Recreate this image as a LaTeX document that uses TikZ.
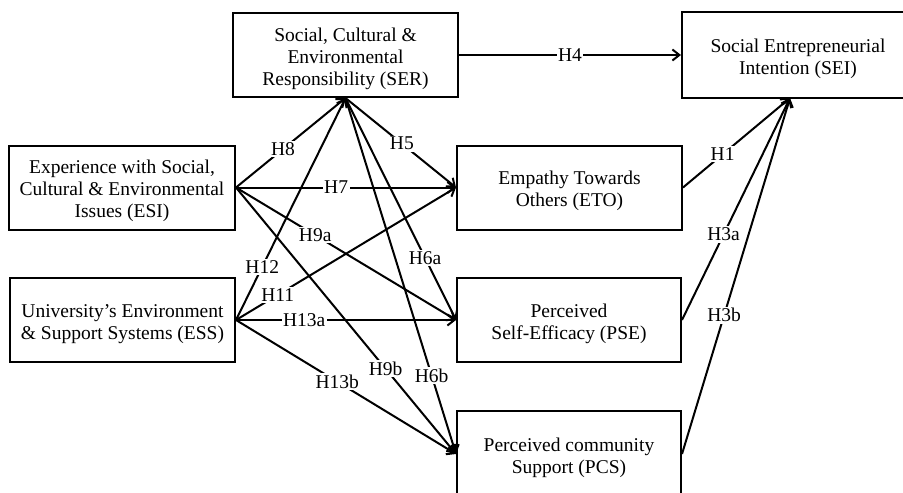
\documentclass[tikz,border=0pt]{standalone}
\usepackage{fontspec}
\setmainfont{Liberation Serif}
\usetikzlibrary{arrows.meta}
\newcommand\tup{\rule{0pt}{21pt}}
\begin{document}
\begin{tikzpicture}[x=1pt,y=-1pt,
  box/.style={draw, line width=2pt, align=center, inner sep=0pt,
    font=\fontsize{19.5}{22}\selectfont},
  arr/.style={line width=2pt, -{Straight Barb[length=7pt,width=11pt,line width=2pt]}},
  lab/.style={fill=white, inner sep=1.5pt, font=\fontsize{19.5}{22}\selectfont}]
\useasboundingbox (0,0) rectangle (903,493);
\node[box, minimum width=225pt, minimum height=84pt] (SER) at (345.5,55)
  {\tup Social, Cultural \&\\Environmental\\Responsibility (SER)};
\node[box, minimum width=232pt, minimum height=86pt] (SEI) at (798,55)
  {\tup Social Entrepreneurial\\Intention (SEI)};
\node[box, minimum width=226pt, minimum height=84pt] (ESI) at (122,187.5)
  {\tup Experience with Social,\\Cultural \& Environmental\\Issues (ESI)};
\node[box, minimum width=225pt, minimum height=84pt] (ETO) at (569.5,187.5)
  {\tup Empathy Towards\\Others (ETO)};
\node[box, minimum width=225pt, minimum height=84pt] (ESS) at (122.5,320)
  {\tup University’s Environment\\\& Support Systems (ESS)};
\node[box, minimum width=224pt, minimum height=84pt] (PSE) at (569,320)
  {\tup Perceived\\Self-Efficacy (PSE)};
\node[box, minimum width=224pt, minimum height=86pt] (PCS) at (569,454)
  {\tup Perceived community\\Support (PCS)};
\coordinate (SEIin) at (790,98);

\draw[arr] (SER.east) -- node[lab,pos=.5]{H4} (SEI.west);
\draw[arr] (ESI.east) -- node[lab,pos=.43]{H8} (SER.south);
\draw[arr] (ESS.east) -- node[lab,pos=.24]{H12} (SER.south);
\draw[arr] (SER.south) -- node[lab,pos=.51]{H5} (ETO.west);
\draw[arr] (SER.south) -- node[lab,pos=.72]{H6a} (PSE.west);
\draw[arr] (SER.south) -- node[lab,pos=.78]{H6b} (PCS.west);
\draw[arr] (ESI.east) -- node[lab,pos=.455]{H7} (ETO.west);
\draw[arr] (ESI.east) -- node[lab,pos=.36]{H9a} (PSE.west);
\draw[arr] (ESI.east) -- node[lab,pos=.68]{H9b} (PCS.west);
\draw[arr] (ESS.east) -- node[lab,pos=.19]{H11} (ETO.west);
\draw[arr] (ESS.east) -- node[lab,pos=.31]{H13a} (PSE.west);
\draw[arr] (ESS.east) -- node[lab,pos=.46]{H13b} (PCS.west);
\draw[arr] (ETO.east) -- node[lab,pos=.37]{H1} (SEIin);
\draw[arr] (PSE.east) -- node[lab,pos=.385]{H3a} (SEIin);
\draw[arr] (PCS.east) -- node[lab,pos=.39]{H3b} (SEIin);
\end{tikzpicture}
\end{document}
